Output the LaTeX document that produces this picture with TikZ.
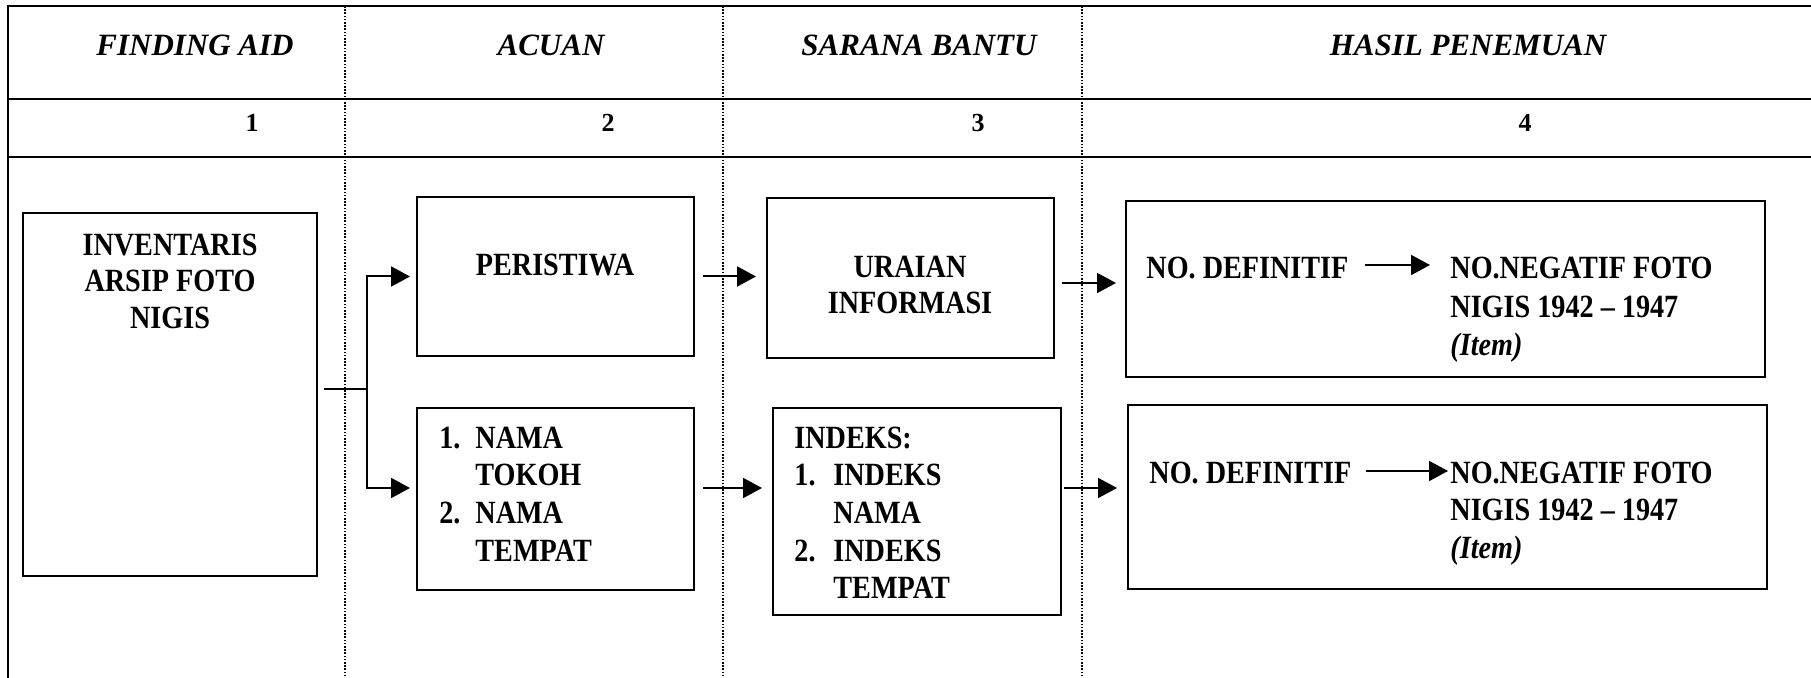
\documentclass[tikz,border=0pt]{standalone}
\usepackage{fontspec}
\setmainfont{Liberation Serif}
\newfontfamily\bodyfont[FakeStretch=0.87]{Liberation Serif}
\usetikzlibrary{arrows.meta,fit}
\begin{document}
\begin{tikzpicture}[x=0.5pt,y=-0.5pt,
  frame/.style={line width=1.3pt, line join=miter},
  colline/.style={line width=0.7pt, dash pattern=on 0.8pt off 0.8pt},
  box/.style={draw, line width=1pt, inner sep=0pt},
  hd/.style={font=\fontsize{15.5}{18}\selectfont\bfseries\itshape, anchor=base, inner sep=0pt},
  num/.style={font=\fontsize{13}{15}\selectfont\bfseries, anchor=base, inner sep=0pt},
  bt/.style={font=\bodyfont\fontsize{16.2}{19}\selectfont\bfseries, anchor=base, inner sep=0pt},
  btl/.style={bt, anchor=base west},
  bti/.style={btl, font=\bodyfont\fontsize{16.2}{19}\selectfont\bfseries\itshape},
  arr/.style={line width=1pt, -{Triangle[length=9.5pt,width=10pt]}},
  ln/.style={line width=1pt}]
\useasboundingbox (0,0) rectangle (1811,678);
% table frame
\draw[frame] (8,678) -- (8,6) -- (1811,6);
\draw[frame] (8,99) -- (1811,99);
\draw[frame] (8,157) -- (1811,157);
\draw[colline] (345,6) -- (345,678);
\draw[colline] (723,6) -- (723,678);
\draw[colline] (1082,6) -- (1082,678);
% headers
\node[hd] (h1) at (195,56) {FINDING AID};
\node[hd] (h2) at (551,56) {ACUAN};
\node[hd] (h3) at (919,56) {SARANA BANTU};
\node[hd] (h4) at (1468,56) {HASIL PENEMUAN};
\node[num] (n1) at (252,132) {1};
\node[num] (n2) at (608,132) {2};
\node[num] (n3) at (978,132) {3};
\node[num] (n4) at (1525,132) {4};
% boxes
\node[box, fit={(23,213) (317,576)}] (inv) {};
\node[box, fit={(417,197) (694,356)}] (per) {};
\node[box, fit={(417,408) (694,590)}] (nama) {};
\node[box, fit={(767,198) (1054,358)}] (ura) {};
\node[box, fit={(773,408) (1061,615)}] (idx) {};
\node[box, fit={(1126,201) (1765,377)}] (has1) {};
\node[box, fit={(1128,405) (1767,589)}] (has2) {};
% texts
\node[bt] (inv1) at (170,256) {INVENTARIS};
\node[bt] (inv2) at (170,292) {ARSIP FOTO};
\node[bt] (inv3) at (170,329) {NIGIS};
\node[bt] (per1) at (555,276) {PERISTIWA};
\node[btl] (nm1a) at (439,449) {1.};
\node[btl] (nm1b) at (475,449) {NAMA};
\node[btl] (nm1c) at (475,486) {TOKOH};
\node[btl] (nm2a) at (439,524) {2.};
\node[btl] (nm2b) at (475,524) {NAMA};
\node[btl] (nm2c) at (475,561) {TEMPAT};
\node[bt] (ur1) at (910,278) {URAIAN};
\node[bt] (ur2) at (910,314) {INFORMASI};
\node[btl] (ix0) at (794,449) {INDEKS:};
\node[btl] (ix1a) at (794,486) {1.};
\node[btl] (ix1b) at (833,486) {INDEKS};
\node[btl] (ix1c) at (833,524) {NAMA};
\node[btl] (ix2a) at (794,561) {2.};
\node[btl] (ix2b) at (833,561) {INDEKS};
\node[btl] (ix2c) at (833,598) {TEMPAT};
\node[btl] (d1) at (1146,279) {NO. DEFINITIF};
\node[btl] (g1) at (1450,279) {NO.NEGATIF FOTO};
\node[btl] (g1b) at (1450,318) {NIGIS 1942 – 1947};
\node[bti] (g1c) at (1450,356) {(Item)};
\node[btl] (d2) at (1149,484) {NO. DEFINITIF};
\node[btl] (g2) at (1450,484) {NO.NEGATIF FOTO};
\node[btl] (g2b) at (1450,521) {NIGIS 1942 – 1947};
\node[bti] (g2c) at (1450,559) {(Item)};
% connectors
\coordinate (j1) at (367,389);
\coordinate (ya) at (0,488);
\coordinate (yb) at (0,283);
\coordinate (yc) at (0,265);
\coordinate (yd) at (0,471);
\draw[ln] ([xshift=3pt]inv.east |- j1) -- (j1);
\draw[arr, shorten >=3pt] (j1) |- (per.west);
\draw[arr, shorten >=3pt] (j1) |- (nama.west |- ya);
\draw[arr, shorten <=4pt, shorten >=5pt] (per.east) -- (per.east -| ura.west);
\draw[arr, shorten <=4pt, shorten >=5pt] (nama.east |- ya) -- (idx.west |- ya);
\draw[arr, shorten <=3.5pt, shorten >=4.5pt] (ura.east |- yb) -- (has1.west |- yb);
\draw[arr, shorten <=1pt, shorten >=5pt] (idx.east |- ya) -- (has2.west |- ya);
\draw[arr, shorten <=8pt, shorten >=10pt] (d1.east |- yc) -- (g1.west |- yc);
\draw[arr, shorten <=7pt, shorten >=1pt] (d2.east |- yd) -- (g2.west |- yd);
\end{tikzpicture}
\end{document}
